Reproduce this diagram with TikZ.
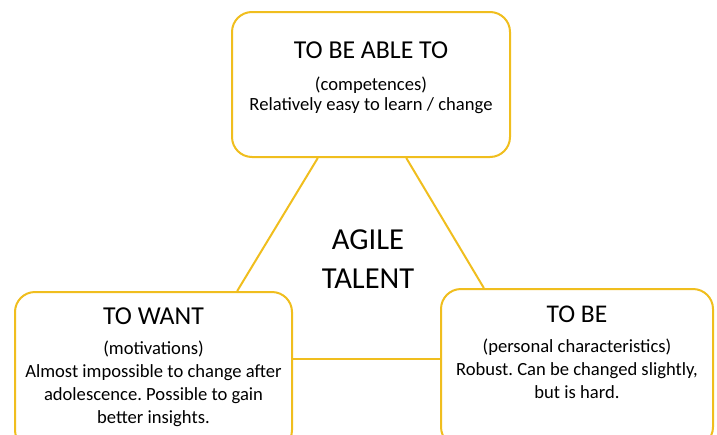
\documentclass[tikz,border=0pt]{standalone}
\usepackage{fontspec}
\setmainfont{Carlito}
\frenchspacing
\usetikzlibrary{calc}
\definecolor{talentgold}{RGB}{240,190,30}
\tikzset{
  box/.style={draw=talentgold, line width=2pt, rounded corners=20pt, fill=white},
  head/.style={font=\fontsize{25.8}{30}\selectfont, inner sep=0pt},
  body/.style={font=\fontsize{18.6}{20}\selectfont, align=center, inner sep=0pt},
  link/.style={draw=talentgold, line width=2pt}
}
\begin{document}
\begin{tikzpicture}[x=1pt,y=-1pt]
\useasboundingbox (0,0) rectangle (717,434);
\clip (0,0) rectangle (717,434);
\node[box, minimum width=278pt, minimum height=145pt] (able) at (371,84.5) {};
\node[box, minimum width=277pt, minimum height=158pt] (want) at (153.5,371) {};
\node[box, minimum width=272pt, minimum height=158pt] (be) at (577,368) {};

\draw[link] ($(able.south west)!0.31!(able.south east)$) -- ($(want.north west)!0.8!(want.north east)$);
\draw[link] ($(able.south west)!0.626!(able.south east)$) -- ($(be.north west)!0.16!(be.north east)$);
\draw[link] ([yshift=-68pt]want.north east) -- ([yshift=-71pt]be.north west);

\node[head, anchor=base] (ablehead) at ([yshift=-47pt]able.north) {TO BE ABLE TO};
\node[body, anchor=north] (abletxt) at ([yshift=-19pt]ablehead.base) {(competences)\\Relatively easy to learn / change};

\node[head, anchor=base] (wanthead) at ([yshift=-33pt]want.north) {TO WANT};
\node[body, anchor=north, font=\fontsize{18.6}{23}\selectfont] (wanttxt) at ([yshift=-17pt]wanthead.base) {(motivations)\\Almost impossible to change after\\adolescence. Possible to gain\\better insights.};

\node[head, anchor=base, font=\fontsize{25.5}{30}\selectfont] (behead) at ([yshift=-34pt]be.north) {TO BE};
\node[body, anchor=north, font=\fontsize{18.6}{23}\selectfont] (betxt) at ([yshift=-17pt]behead.base) {(personal characteristics)\\Robust. Can be changed slightly,\\but is hard.};

\node[font=\fontsize{30.5}{39}\selectfont, align=center, inner sep=0pt] (agile) at (368,259) {AGILE\\TALENT};
\end{tikzpicture}
\end{document}
